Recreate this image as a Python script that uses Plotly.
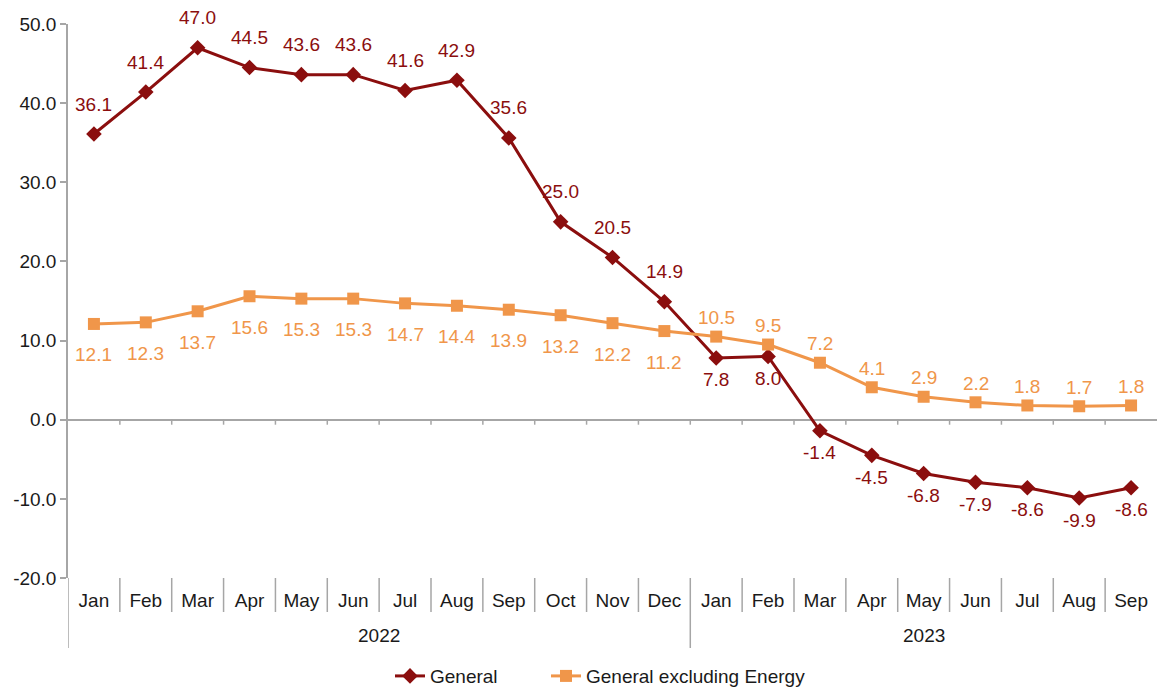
import plotly.graph_objects as go

months = ["Jan", "Feb", "Mar", "Apr", "May", "Jun", "Jul", "Aug", "Sep", "Oct", "Nov", "Dec",
          "Jan", "Feb", "Mar", "Apr", "May", "Jun", "Jul", "Aug", "Sep"]
years = ["2022"] * 12 + ["2023"] * 9
general = [36.1, 41.4, 47.0, 44.5, 43.6, 43.6, 41.6, 42.9, 35.6, 25.0, 20.5, 14.9,
           7.8, 8.0, -1.4, -4.5, -6.8, -7.9, -8.6, -9.9, -8.6]
general_ex_energy = [12.1, 12.3, 13.7, 15.6, 15.3, 15.3, 14.7, 14.4, 13.9, 13.2, 12.2, 11.2,
                     10.5, 9.5, 7.2, 4.1, 2.9, 2.2, 1.8, 1.7, 1.8]
y_ticks = [-20, -10, 0, 10, 20, 30, 40, 50]

RED = "#8B0E0E"
ORANGE = "#F0964A"
GRAY = "#A6A6A6"
FONT = "Liberation Sans, Arial, sans-serif"
FS = 19

n = len(months)
xs = list(range(n))

fig = go.Figure()
fig.add_trace(go.Scatter(
    x=xs, y=general, name="General", mode="lines+markers",
    line=dict(color=RED, width=3),
    marker=dict(symbol="diamond", size=12, color=RED),
    legend="legend",
))
fig.add_trace(go.Scatter(
    x=xs, y=general_ex_energy, name="General excluding Energy", mode="lines+markers",
    line=dict(color=ORANGE, width=3),
    marker=dict(symbol="square", size=12, color=ORANGE),
    legend="legend2",
))

annotations = []
for i, (yr, v) in enumerate(zip(years, general)):
    shift = 30 if yr == "2022" else -22
    annotations.append(dict(x=i, y=v, xref="x", yref="y", text=f"{v:.1f}", showarrow=False,
                            yshift=shift, font=dict(color=RED, size=FS, family=FONT)))
for i, (yr, v) in enumerate(zip(years, general_ex_energy)):
    shift = -31 if yr == "2022" else 19
    annotations.append(dict(x=i, y=v, xref="x", yref="y", text=f"{v:.1f}", showarrow=False,
                            yshift=shift, font=dict(color=ORANGE, size=FS, family=FONT)))

# year group labels
year_names = []
for y in years:
    if y not in year_names:
        year_names.append(y)
for yn in year_names:
    idx = [i for i, y in enumerate(years) if y == yn]
    annotations.append(dict(x=(idx[0] + idx[-1]) / 2, y=0, xref="x", yref="paper", text=yn,
                            showarrow=False, yshift=-57, yanchor="middle",
                            font=dict(color="#1a1a1a", size=FS, family=FONT)))

plot_h = 689 - 24 - 111
shapes = []
for i in range(n - 1):
    boundary = i + 0.5
    is_year = years[i] != years[i + 1]
    depth = 70 if is_year else 34
    shapes.append(dict(type="line", xref="x", yref="paper", x0=boundary, x1=boundary,
                       y0=0, y1=-depth / plot_h, line=dict(color=GRAY, width=1.5)))
    # small ticks on zero line
    shapes.append(dict(type="line", xref="x", yref="y", x0=boundary, x1=boundary,
                       y0=0, y1=-5 / (plot_h / 70), line=dict(color=GRAY, width=1.5)))
shapes.append(dict(type="line", xref="x", yref="paper", x0=-0.5, x1=-0.5,
                   y0=0, y1=-70 / plot_h, line=dict(color=GRAY, width=1.5)))

legend_style = dict(orientation="h", yanchor="middle", y=-0.177, xanchor="left",
                    font=dict(size=FS, family=FONT, color="#1a1a1a"),
                    bgcolor="rgba(0,0,0,0)")
fig.update_layout(
    width=1157, height=689,
    margin=dict(l=68, r=0, t=24, b=111, autoexpand=False),
    paper_bgcolor="white", plot_bgcolor="white",
    font=dict(family=FONT, size=FS, color="#1a1a1a"),
    showlegend=True,
    legend=dict(x=(390 - 68) / 1089, **legend_style),
    legend2=dict(x=(546 - 68) / 1089, **legend_style),
    annotations=annotations,
    shapes=shapes,
)
fig.update_xaxes(
    range=[-0.5, n - 0.5], tickmode="array", tickvals=xs, ticktext=months,
    showgrid=False, zeroline=False, showline=False,
    ticks="outside", ticklen=5, tickcolor="rgba(0,0,0,0)",
    tickfont=dict(size=FS, family=FONT, color="#1a1a1a"),
)
fig.update_yaxes(
    range=[-20, 50], tickmode="array", tickvals=y_ticks,
    ticktext=[f"{t:.1f}" for t in y_ticks],
    showgrid=False, showline=True, linecolor=GRAY, linewidth=1.5,
    ticks="outside", ticklen=6, tickcolor=GRAY, tickwidth=1.5,
    zeroline=True, zerolinecolor=GRAY, zerolinewidth=2,
    tickfont=dict(size=FS, family=FONT, color="#1a1a1a"),
)

fig.write_html("out.html", config={"displayModeBar": False},
               post_script="document.body.style.margin='0';")
